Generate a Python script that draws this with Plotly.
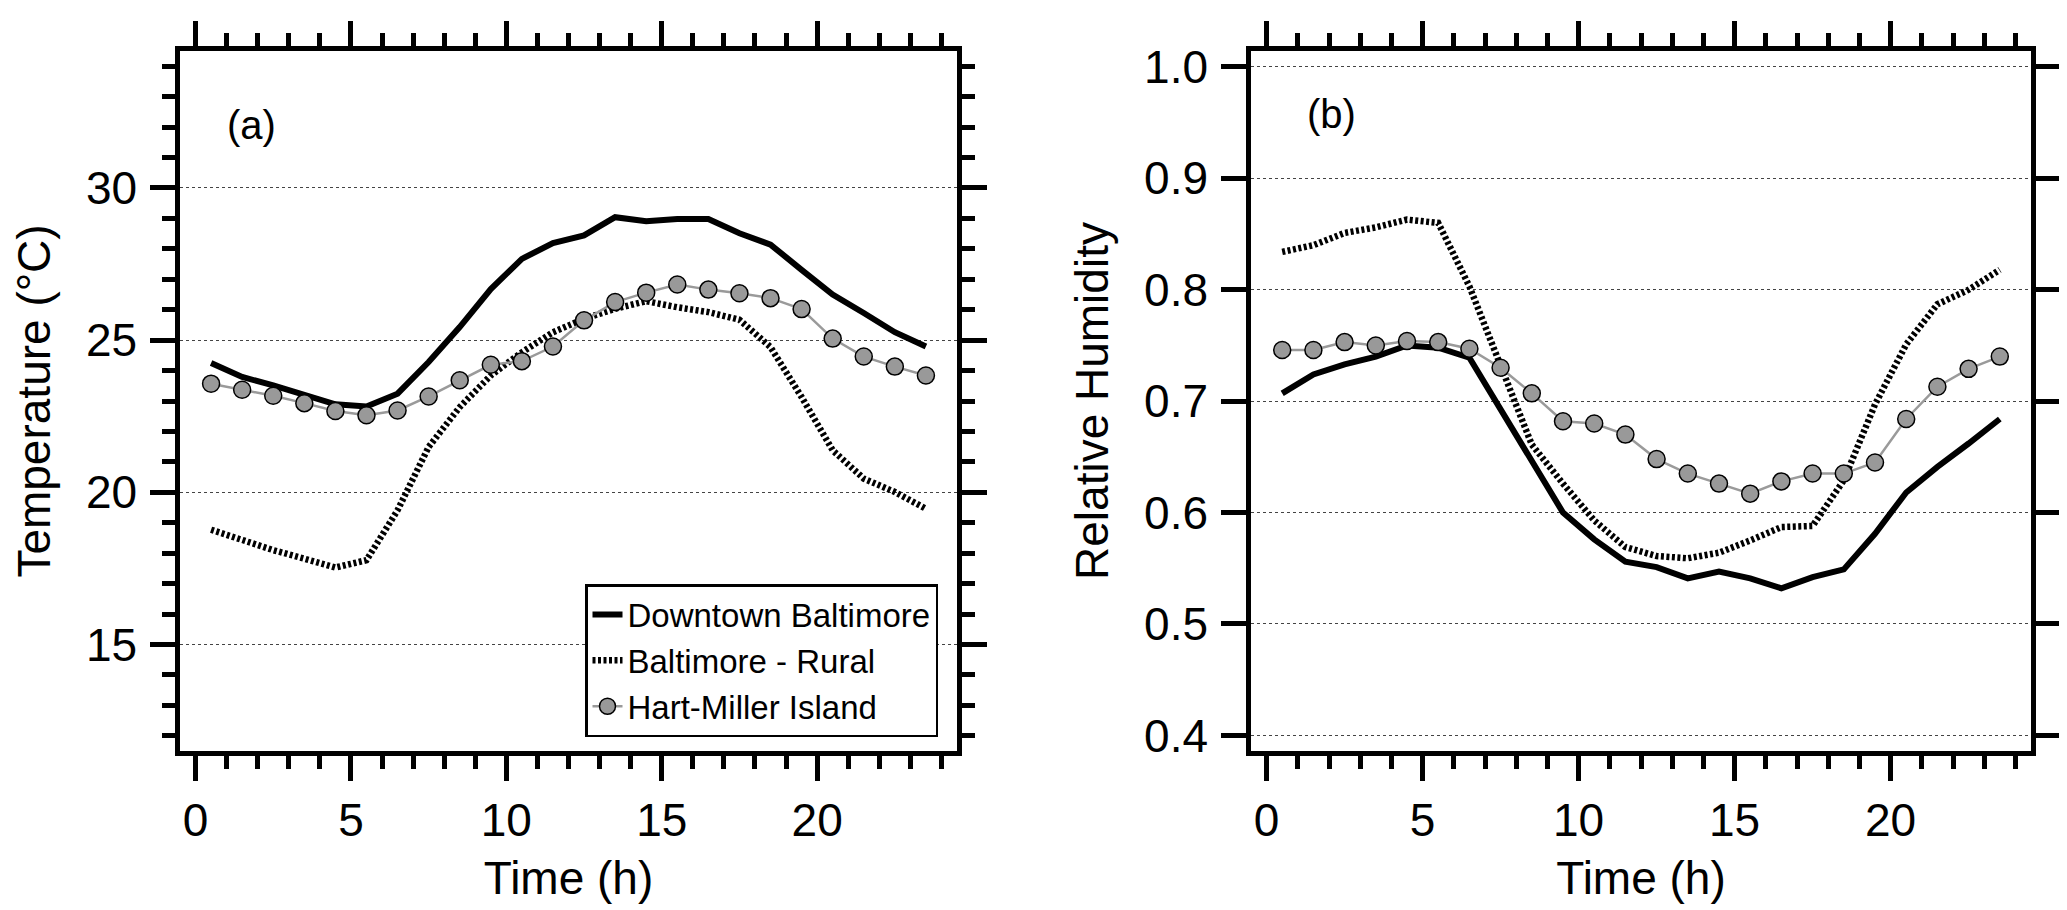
import plotly.graph_objects as go

# ---------------- data ----------------
hours = [0.5, 1.5, 2.5, 3.5, 4.5, 5.5, 6.5, 7.5, 8.5, 9.5, 10.5, 11.5,
         12.5, 13.5, 14.5, 15.5, 16.5, 17.5, 18.5, 19.5, 20.5, 21.5, 22.5, 23.5]

series_names = ["Downtown Baltimore", "Baltimore - Rural", "Hart-Miller Island"]

temp_downtown = [24.25, 23.79, 23.51, 23.22, 22.89, 22.82, 23.24, 24.28, 25.43, 26.68, 27.67, 28.19,
                 28.44, 29.04, 28.91, 28.98, 28.98, 28.51, 28.14, 27.31, 26.50, 25.89, 25.26, 24.79]
temp_rural = [18.77, 18.42, 18.10, 17.82, 17.53, 17.77, 19.41, 21.49, 22.80, 23.84, 24.60, 25.26,
              25.70, 26.03, 26.28, 26.08, 25.92, 25.67, 24.77, 23.13, 21.38, 20.45, 20.01, 19.46]
temp_hmi = [23.57, 23.37, 23.17, 22.93, 22.67, 22.53, 22.69, 23.15, 23.68, 24.19, 24.31, 24.79,
            25.65, 26.25, 26.56, 26.83, 26.66, 26.54, 26.38, 26.02, 25.05, 24.46, 24.13, 23.84]

rh_downtown = [0.707, 0.724, 0.733, 0.740, 0.750, 0.748, 0.739, 0.693, 0.645, 0.600, 0.576, 0.556,
               0.551, 0.541, 0.547, 0.541, 0.532, 0.542, 0.549, 0.581, 0.618, 0.641, 0.662, 0.684]
rh_rural = [0.834, 0.840, 0.851, 0.856, 0.863, 0.860, 0.803, 0.733, 0.661, 0.626, 0.593, 0.569,
            0.561, 0.559, 0.564, 0.575, 0.587, 0.588, 0.629, 0.697, 0.751, 0.787, 0.800, 0.818]
rh_hmi = [0.746, 0.746, 0.753, 0.750, 0.754, 0.753, 0.747, 0.730, 0.707, 0.682, 0.680, 0.670,
          0.648, 0.635, 0.626, 0.617, 0.628, 0.635, 0.635, 0.645, 0.684, 0.713, 0.729, 0.740]

panel_labels = ["(a)", "(b)"]
x_title = "Time (h)"
y_titles = ["Temperature (°C)", "Relative Humidity"]

# ---------------- styling ----------------
FONT = "Liberation Sans, Arial, sans-serif"
W, H = 2067, 910
ML, MR, MT, MB = 172, 44, 43, 167

solid = dict(color="black", width=6)
dotted = dict(color="black", width=6.5, dash="3px,2.5px")
hmi_line = dict(color="#9a9a9a", width=2.5)
hmi_marker = dict(symbol="circle", size=17, color="#999999",
                  line=dict(color="black", width=1.5))

fig = go.Figure()

for (yd, yr, yh, xa, ya, show) in [
    (temp_downtown, temp_rural, temp_hmi, "x", "y", True),
    (rh_downtown, rh_rural, rh_hmi, "x2", "y2", False),
]:
    fig.add_trace(go.Scatter(x=hours, y=yd, mode="lines", line=solid,
                             name=series_names[0], showlegend=show,
                             xaxis=xa, yaxis=ya))
    fig.add_trace(go.Scatter(x=hours, y=yr, mode="lines", line=dotted,
                             name=series_names[1], showlegend=show,
                             xaxis=xa, yaxis=ya))
    fig.add_trace(go.Scatter(x=hours, y=yh, mode="lines+markers", line=hmi_line,
                             marker=hmi_marker, name=series_names[2],
                             showlegend=show, xaxis=xa, yaxis=ya))

inner_w = W - ML - MR
x1_dom = [0.0, (949 - ML) / inner_w]
x2_dom = [(1243 - ML) / inner_w, 1.0]

tickfont = dict(family=FONT, size=46, color="black")
titlefont = dict(family=FONT, size=46, color="black")
GRID = "#444444"

common_x = dict(
    range=[-0.5, 24.5], tick0=0, dtick=5, ticks="outside", ticklen=25,
    tickwidth=4.5, tickcolor="black", showline=True, linewidth=4.5,
    linecolor="black", mirror="allticks", showgrid=False, zeroline=False,
    tickfont=tickfont,
    minor=dict(dtick=1, tick0=0, ticks="outside", ticklen=13, tickwidth=4.5,
               tickcolor="black", showgrid=False),
    title=dict(text=x_title, font=titlefont, standoff=18),
)

fig.update_layout(
    width=W, height=H,
    margin=dict(l=ML, r=MR, t=MT, b=MB, pad=0),
    paper_bgcolor="white", plot_bgcolor="white",
    font=dict(family=FONT, color="black"),
    xaxis=dict(domain=x1_dom, anchor="y", **common_x),
    xaxis2=dict(domain=x2_dom, anchor="y2", **common_x),
    yaxis=dict(
        domain=[0, 1], anchor="x", range=[11.5, 34.5],
        tickvals=[15, 20, 25, 30],
        ticks="outside", ticklen=25, tickwidth=4.5, tickcolor="black",
        showline=True, linewidth=4.5, linecolor="black", mirror="allticks",
        showgrid=True, gridcolor=GRID, gridwidth=1, griddash="3px,3px",
        zeroline=False, tickfont=tickfont, ticklabelstandoff=4,
        minor=dict(dtick=1, tick0=0, ticks="outside", ticklen=13, tickwidth=4.5,
                   tickcolor="black", showgrid=False),
        title=dict(text=y_titles[0], font=titlefont, standoff=22),
    ),
    yaxis2=dict(
        domain=[0, 1], anchor="x2", range=[0.386, 1.0143], tick0=0.4, dtick=0.1,
        tickformat=".1f",
        ticks="outside", ticklen=25, tickwidth=4.5, tickcolor="black",
        showline=True, linewidth=4.5, linecolor="black", mirror="allticks",
        showgrid=True, gridcolor=GRID, gridwidth=1, griddash="3px,3px",
        zeroline=False, tickfont=tickfont, ticklabelstandoff=4,
        title=dict(text=y_titles[1], font=titlefont, standoff=22),
    ),
    legend=dict(
        x=(577 - ML) / inner_w, y=1 - (576 - MT) / (H - MT - MB),
        xanchor="left", yanchor="top",
        bgcolor="white", bordercolor="black", borderwidth=2.5,
        font=dict(family=FONT, size=33, color="black"),
        itemwidth=30, tracegroupgap=0,
    ),
    annotations=[
        dict(text=panel_labels[0], x=1.8, y=32.07, xref="x", yref="y",
             showarrow=False, font=dict(family=FONT, size=40, color="black")),
        dict(text=panel_labels[1], x=2.08, y=0.958, xref="x2", yref="y2",
             showarrow=False, font=dict(family=FONT, size=40, color="black")),
    ],
)

fig.write_html("out.html")
